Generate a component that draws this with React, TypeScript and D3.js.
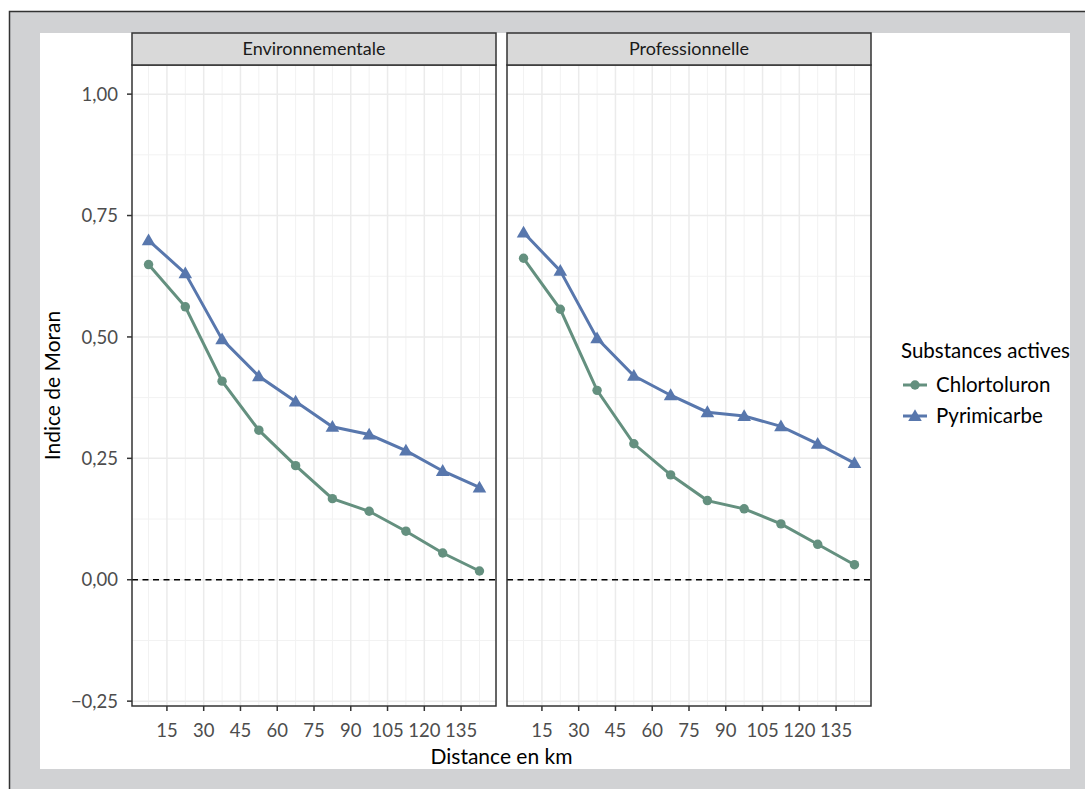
import React, { useRef, useEffect } from 'react';
import * as d3 from 'd3';

// distances (km) of the lag classes
const distances = [7.5, 22.5, 37.5, 52.5, 67.5, 82.5, 97.5, 112.5, 127.5, 142.5];
const facets = ['Environnementale', 'Professionnelle'];
const substances = ['Chlortoluron', 'Pyrimicarbe'];

// Moran index values
const chlortoluronEnv = [0.649, 0.562, 0.409, 0.308, 0.235, 0.167, 0.141, 0.1, 0.055, 0.018];
const pyrimicarbeEnv = [0.699, 0.631, 0.495, 0.419, 0.367, 0.315, 0.299, 0.266, 0.224, 0.19];
const chlortoluronPro = [0.662, 0.557, 0.39, 0.28, 0.216, 0.163, 0.146, 0.115, 0.073, 0.031];
const pyrimicarbePro = [0.715, 0.636, 0.497, 0.42, 0.38, 0.345, 0.337, 0.316, 0.28, 0.24];

const xTicks = [15, 30, 45, 60, 75, 90, 105, 120, 135];
const xMinor = [7.5, 22.5, 37.5, 52.5, 67.5, 82.5, 97.5, 112.5, 127.5, 142.5];
const yTicks = [-0.25, 0, 0.25, 0.5, 0.75, 1];
const yMinor = [-0.125, 0.125, 0.375, 0.625, 0.875];

const colors = ['#64907f', '#5877ad'];
const FONT = 'Lato, "Open Sans", sans-serif';

const App = () => {
    const svgRef = useRef<SVGSVGElement>(null);

    useEffect(() => {
        const svg = d3.select(svgRef.current);
        svg.selectAll('*').remove();

        // outer grey frame and white plot background
        svg.append('rect')
            .attr('x', 9.5).attr('y', 11.5)
            .attr('width', 1100).attr('height', 800)
            .attr('fill', '#d1d2d4')
            .attr('stroke', '#333').attr('stroke-width', 1.5);
        svg.append('rect')
            .attr('x', 40).attr('y', 33)
            .attr('width', 1030).attr('height', 736)
            .attr('fill', '#fff');

        const panelTop = 65, panelBottom = 706;
        const panelLefts = [132, 507];
        const panelWidth = 364;

        const y = d3.scaleLinear().domain([-0.26, 1.06]).range([panelBottom, panelTop]);
        const fmt = (v: number) => d3.format('.2f')(v).replace('.', ',').replace('-', '\u2212');

        const series = [
            [chlortoluronEnv, pyrimicarbeEnv],
            [chlortoluronPro, pyrimicarbePro],
        ];

        facets.forEach((facet, fi) => {
            const left = panelLefts[fi];
            const x = d3.scaleLinear().domain([0.75, 149.25]).range([left, left + panelWidth]);
            const g = svg.append('g');

            // grid
            g.selectAll('.ym').data(yMinor).enter().append('line')
                .attr('x1', left).attr('x2', left + panelWidth)
                .attr('y1', d => y(d)).attr('y2', d => y(d))
                .attr('stroke', '#f2f2f2').attr('stroke-width', 1);
            g.selectAll('.xm').data(xMinor).enter().append('line')
                .attr('y1', panelTop).attr('y2', panelBottom)
                .attr('x1', d => x(d)).attr('x2', d => x(d))
                .attr('stroke', '#f2f2f2').attr('stroke-width', 1);
            g.selectAll('.yM').data(yTicks).enter().append('line')
                .attr('x1', left).attr('x2', left + panelWidth)
                .attr('y1', d => y(d)).attr('y2', d => y(d))
                .attr('stroke', '#ebebeb').attr('stroke-width', 1.5);
            g.selectAll('.xM').data(xTicks).enter().append('line')
                .attr('y1', panelTop).attr('y2', panelBottom)
                .attr('x1', d => x(d)).attr('x2', d => x(d))
                .attr('stroke', '#ebebeb').attr('stroke-width', 1.5);

            // zero reference line
            g.append('line')
                .attr('x1', left).attr('x2', left + panelWidth)
                .attr('y1', y(0)).attr('y2', y(0))
                .attr('stroke', '#000').attr('stroke-width', 1.5)
                .attr('stroke-dasharray', '6,4.5');

            // lines and points
            series[fi].forEach((vals, si) => {
                const pts = vals.map((v, i) => [distances[i], v] as [number, number]);
                const line = d3.line<[number, number]>().x(d => x(d[0])).y(d => y(d[1]));
                g.append('path').datum(pts)
                    .attr('d', line)
                    .attr('fill', 'none')
                    .attr('stroke', colors[si])
                    .attr('stroke-width', 3);
                const sym = d3.symbol().type(si === 0 ? d3.symbolCircle : d3.symbolTriangle).size(si === 0 ? 70 : 80);
                g.selectAll('.pt' + si).data(pts).enter().append('path')
                    .attr('d', sym)
                    .attr('transform', d => `translate(${x(d[0])},${y(d[1]) + (si === 0 ? 0 : 1)})`)
                    .attr('fill', colors[si]);
            });

            // panel border
            g.append('rect')
                .attr('x', left).attr('y', panelTop)
                .attr('width', panelWidth).attr('height', panelBottom - panelTop)
                .attr('fill', 'none').attr('stroke', '#333').attr('stroke-width', 1.5);

            // strip
            g.append('rect')
                .attr('x', left).attr('y', 33)
                .attr('width', panelWidth).attr('height', panelTop - 33)
                .attr('fill', '#d9d9d9').attr('stroke', '#333').attr('stroke-width', 1.5);
            g.append('text')
                .attr('x', left + panelWidth / 2).attr('y', 55)
                .attr('text-anchor', 'middle')
                .attr('font-family', FONT).attr('font-size', 18)
                .attr('fill', '#1a1a1a')
                .text(facet);

            // x axis
            g.selectAll('.xt').data(xTicks).enter().append('line')
                .attr('x1', d => x(d)).attr('x2', d => x(d))
                .attr('y1', panelBottom).attr('y2', panelBottom + 5)
                .attr('stroke', '#333').attr('stroke-width', 1.5);
            g.selectAll('.xl').data(xTicks).enter().append('text')
                .attr('x', d => x(d)).attr('y', 737)
                .attr('text-anchor', 'middle')
                .attr('font-family', FONT).attr('font-size', 18.5)
                .attr('fill', '#4d4d4d')
                .text(d => d);
        });

        // y axis (left panel only)
        const yAxis = svg.append('g');
        yAxis.selectAll('line').data(yTicks).enter().append('line')
            .attr('x1', 127).attr('x2', 132)
            .attr('y1', d => y(d)).attr('y2', d => y(d))
            .attr('stroke', '#333').attr('stroke-width', 1.5);
        yAxis.selectAll('text').data(yTicks).enter().append('text')
            .attr('x', 118).attr('y', d => y(d))
            .attr('dy', '0.36em')
            .attr('text-anchor', 'end')
            .attr('font-family', FONT).attr('font-size', 18.5)
            .attr('fill', '#4d4d4d')
            .text(d => fmt(d));

        // axis titles
        svg.append('text')
            .attr('x', 501.5).attr('y', 764)
            .attr('text-anchor', 'middle')
            .attr('font-family', FONT).attr('font-size', 21)
            .attr('fill', '#000')
            .text('Distance en km');
        svg.append('text')
            .attr('transform', `translate(60,${(panelTop + panelBottom) / 2}) rotate(-90)`)
            .attr('text-anchor', 'middle')
            .attr('font-family', FONT).attr('font-size', 21)
            .attr('fill', '#000')
            .text('Indice de Moran');

        // legend
        const legend = svg.append('g').attr('transform', 'translate(901,0)');
        legend.append('text')
            .attr('x', 0).attr('y', 358)
            .attr('font-family', FONT).attr('font-size', 20.5)
            .attr('fill', '#000')
            .text('Substances actives');
        substances.forEach((s, i) => {
            const cy = 385 + i * 31;
            legend.append('line')
                .attr('x1', 2).attr('x2', 26)
                .attr('y1', cy).attr('y2', cy)
                .attr('stroke', colors[i]).attr('stroke-width', 3);
            legend.append('path')
                .attr('d', d3.symbol().type(i === 0 ? d3.symbolCircle : d3.symbolTriangle).size(i === 0 ? 70 : 80)())
                .attr('transform', `translate(14,${cy + (i === 0 ? 0 : 1)})`)
                .attr('fill', colors[i]);
            legend.append('text')
                .attr('x', 35).attr('y', cy)
                .attr('dy', '0.35em')
                .attr('font-family', FONT).attr('font-size', 20.5)
                .attr('fill', '#000')
                .text(s);
        });
    }, []);

    return (
        <div style={{ position: 'absolute', left: 0, top: 0 }}>
            <svg ref={svgRef} width={1085} height={789} style={{ display: 'block' }} />
        </div>
    );
};

export default App;
